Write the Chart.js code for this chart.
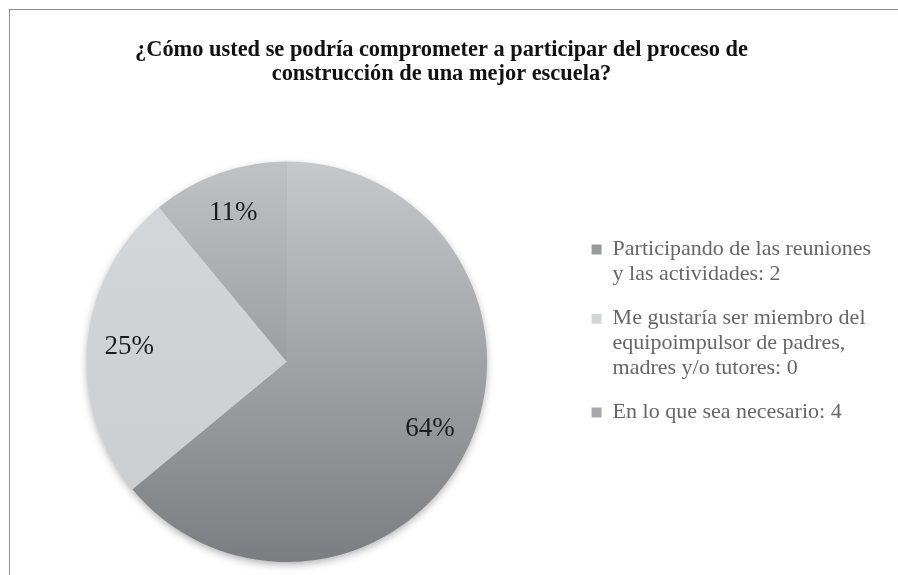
<!DOCTYPE html>
<html>
<head>
<meta charset="utf-8">
<script src="https://cdn.jsdelivr.net/npm/chart.js@4.4.0/dist/chart.umd.min.js"></script>
<style>
  html, body { margin: 0; padding: 0; background: #fff; overflow: hidden; }
  #wrap { position: relative; width: 898px; height: 575px; overflow: hidden; }
  #frame { position: absolute; left: 9px; top: 9px; width: 2000px; height: 2000px;
           border-top: 1px solid #8f8f8f; border-left: 1px solid #8f8f8f; pointer-events: none; }
  canvas { position: absolute; left: 0; top: 0; }
</style>
</head>
<body>
<div id="wrap">
  <canvas id="chart" width="898" height="575"></canvas>
  <div id="frame"></div>
</div>
<script>
// chart data
const titleLines = [
  "¿Cómo usted se podría comprometer a participar del proceso de",
  "construcción de una mejor escuela?"
];
const categories = [
  ["Participando de las reuniones", "y las actividades: 2"],
  ["Me gustaría ser miembro del", "equipoimpulsor de padres,", "madres y/o tutores: 0"],
  ["En lo que sea necesario: 4"]
];
const percentages = [64, 25, 11];

// vertical gradient stops per slice (top, bottom) and legend swatch colour
const sliceColors = [
  ["#c7c8ca", "#7c7d80"],
  ["#d6d7d9", "#cbccce"],
  ["#c1c2c4", "#78797c"]
];
const swatchColors = ["#9a9b9e", "#d4d5d7", "#a8a9ac"];

const serif = "'Liberation Serif', 'DejaVu Serif', serif";

function sliceFill(context) {
  const chart = context.chart;
  const area = chart.chartArea;
  if (!area) return sliceColors[context.dataIndex][0];
  const g = chart.ctx.createLinearGradient(0, area.top, 0, area.bottom);
  g.addColorStop(0, sliceColors[context.dataIndex][0]);
  g.addColorStop(1, sliceColors[context.dataIndex][1]);
  return g;
}

// soft shadow under the pie
const pieShadow = {
  id: 'pieShadow',
  beforeDatasetsDraw(chart) {
    const arc = chart.getDatasetMeta(0).data[0];
    if (!arc) return;
    const ctx = chart.ctx;
    ctx.save();
    ctx.shadowColor = 'rgba(0,0,0,0.35)';
    ctx.shadowBlur = 9;
    ctx.shadowOffsetY = 3;
    ctx.fillStyle = '#b0b0b0';
    ctx.beginPath();
    ctx.arc(arc.x, arc.y, arc.outerRadius - 1, 0, Math.PI * 2);
    ctx.fill();
    ctx.restore();
  }
};

// percentage labels inside the slices
const sliceLabels = {
  id: 'sliceLabels',
  afterDatasetsDraw(chart) {
    const ctx = chart.ctx;
    const meta = chart.getDatasetMeta(0);
    ctx.save();
    ctx.font = "27px " + serif;
    ctx.fillStyle = '#1c1c1c';
    ctx.textAlign = 'center';
    ctx.textBaseline = 'middle';
    meta.data.forEach((arc, i) => {
      const mid = (arc.startAngle + arc.endAngle) / 2;
      const r = arc.outerRadius * 0.79;
      ctx.fillText(percentages[i] + '%', arc.x + Math.cos(mid) * r, arc.y + Math.sin(mid) * r);
    });
    ctx.restore();
  }
};

new Chart(document.getElementById('chart'), {
  type: 'pie',
  data: {
    labels: categories,
    datasets: [{
      data: percentages,
      backgroundColor: sliceFill,
      borderWidth: 0
    }]
  },
  options: {
    responsive: false,
    animation: false,
    layout: { padding: { left: 2, right: 17, top: 0, bottom: 13 } },
    plugins: {
      title: {
        display: true,
        text: titleLines,
        color: '#111',
        font: { family: serif, size: 22.4, weight: 'bold', lineHeight: 1.08 },
        padding: { top: 38, bottom: 75 }
      },
      legend: {
        display: true,
        position: 'right',
        align: 'start',
        title: { display: true, text: ' ', padding: { top: 204, bottom: 0 }, font: { size: 12 } },
        labels: {
          boxWidth: 10,
          boxHeight: 10,
          padding: 20,
          color: '#1a1a1a',
          font: { family: serif, size: 22, lineHeight: 1.12 },
          generateLabels(chart) {
            return chart.data.labels.map((text, i) => ({
              text: text,
              fillStyle: swatchColors[i],
              strokeStyle: '#fff',
              lineWidth: 0,
              hidden: false,
              index: i
            }));
          }
        }
      },
      tooltip: { enabled: false }
    }
  },
  plugins: [pieShadow, sliceLabels]
});
</script>
</body>
</html>
